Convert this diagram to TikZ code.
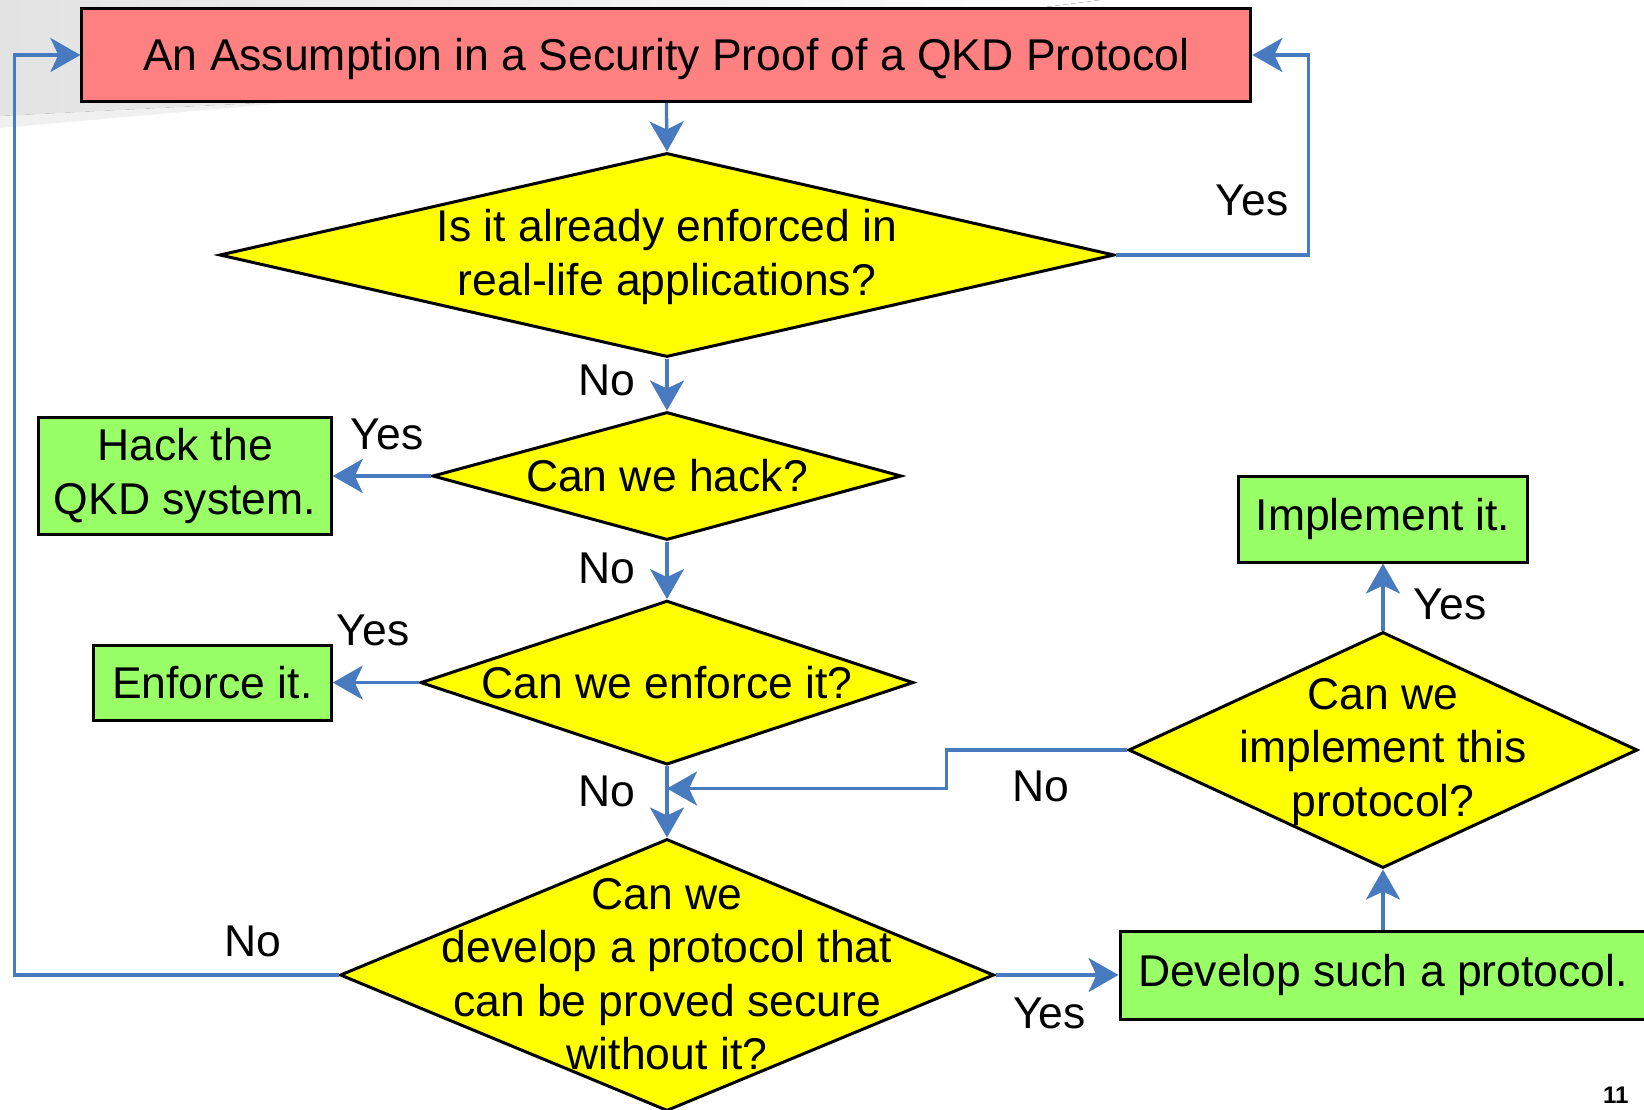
\documentclass[tikz,border=0pt]{standalone}
\usepackage{fontspec}
\setmainfont{Liberation Sans}
\usetikzlibrary{arrows.meta,shapes.geometric,calc}
\definecolor{boxred}{RGB}{255,128,128}
\definecolor{dyellow}{RGB}{255,255,0}
\definecolor{bgreen}{RGB}{153,255,102}
\definecolor{lblue}{RGB}{71,122,191}
\begin{document}
\begin{tikzpicture}[x=1pt,y=-1pt,
  every node/.style={font=\fontsize{44.5}{53.5}\selectfont},
  rbox/.style={draw=black, line width=3pt, inner sep=0pt, align=center},
  dia/.style={diamond, draw=black, line width=3pt, fill=dyellow, inner sep=0pt},
  txt/.style={align=center, inner sep=0pt},
  lbl/.style={inner sep=0pt},
  arr/.style={draw=lblue, line width=3.3pt, -{Stealth[length=30pt,width=34pt,inset=8pt]}}]
\useasboundingbox (0,0) rectangle (1644,1109);
% slide background decoration
\fill[left color=black!11, right color=white, draw=none] (0,0) -- (1100,0) -- (320,100) -- (0,116) -- cycle;
\fill[black!6] (0,116) -- (320,100) -- (0,128) -- cycle;

% nodes
\node[rbox, fill=boxred, minimum width=1169, minimum height=93, text depth=2pt] (top) at (666.4,55) {An Assumption in a Security Proof of a QKD Protocol};

\node[dia, minimum width=895, minimum height=204] (d1) at (667,255) {};
\node[txt] (t1) at ($(d1)+(0,2)$) {Is it already enforced in\\real-life applications?};

\node[dia, minimum width=469, minimum height=128] (d2) at (667,476) {};
\node[txt] (t2) at (d2) {Can we hack?};

\node[dia, minimum width=493, minimum height=164] (d3) at (667,682.6) {};
\node[txt] (t3) at (d3) {Can we enforce it?};

\node[dia, minimum width=654, minimum height=272] (d4) at (667,975) {};
\node[txt] (t4) at ($(d4)+(0,-1)$) {Can we\\develop a protocol that\\can be proved secure\\without it?};

\node[dia, minimum width=509, minimum height=236] (d5) at (1383,750) {};
\node[txt] (t5) at ($(d5)+(0,2)$) {Can we\\implement this\\protocol?};

\node[rbox, fill=bgreen, minimum width=292.5, minimum height=117.4] (hack) at (185,476) {Hack the\\QKD system.};
\node[rbox, fill=bgreen, minimum width=238, minimum height=74.4] (enf) at (212.3,683) {Enforce it.};
\node[rbox, fill=bgreen, minimum width=289, minimum height=86] (impl) at (1383,519) {Implement it.};
\node[rbox, fill=bgreen, minimum width=526, minimum height=88] (dev) at (1383,975) {Develop such a protocol.};

% helper coordinates
\coordinate (rx) at (1308.5,0);
\coordinate (lx) at (14.7,0);
\coordinate (nj) at (946.8,788.5);
\coordinate (mj) at (667,788.5);

% connectors
\draw[arr] (top.south) -- (d1.north);
\draw[arr] (d1.east) -| (rx |- top.east) -- (top.east);
\draw[arr] (d1.south) -- (d2.north);
\draw[arr] (d2.west) -- (hack.east);
\draw[arr] (d2.south) -- (d3.north);
\draw[arr] (d3.west) -- (d3.west -| enf.east);
\draw[arr] (d3.south) -- (d4.north);
\draw[arr] (d4.west) -| (lx |- top.west) -- (top.west);
\draw[arr] (d4.east) -- (dev.west);
\draw[arr] (dev.north) -- (d5.south);
\draw[arr] (d5.north) -- (impl.south);
\draw[arr] (d5.west) -- (nj |- d5.west) -- (nj) -- (mj);

% labels
\node[lbl] (y1) at (1252,200) {Yes};
\node[lbl] (n1) at (607,380.6) {No};
\node[lbl] (y2) at (387,434) {Yes};
\node[lbl] (n2) at (607,568) {No};
\node[lbl] (y3) at (373,630) {Yes};
\node[lbl] (n3) at (607,791.6) {No};
\node[lbl] (n4) at (252.7,941.6) {No};
\node[lbl] (y4) at (1049.5,1013) {Yes};
\node[lbl] (y5) at (1450,604) {Yes};
\node[lbl] (n5) at (1041,786) {No};

% slide number
\node[inner sep=0pt, anchor=base west, font=\fontsize{24}{28}\selectfont\bfseries] (pg) at (1603,1103) {11};
\end{tikzpicture}
\end{document}
